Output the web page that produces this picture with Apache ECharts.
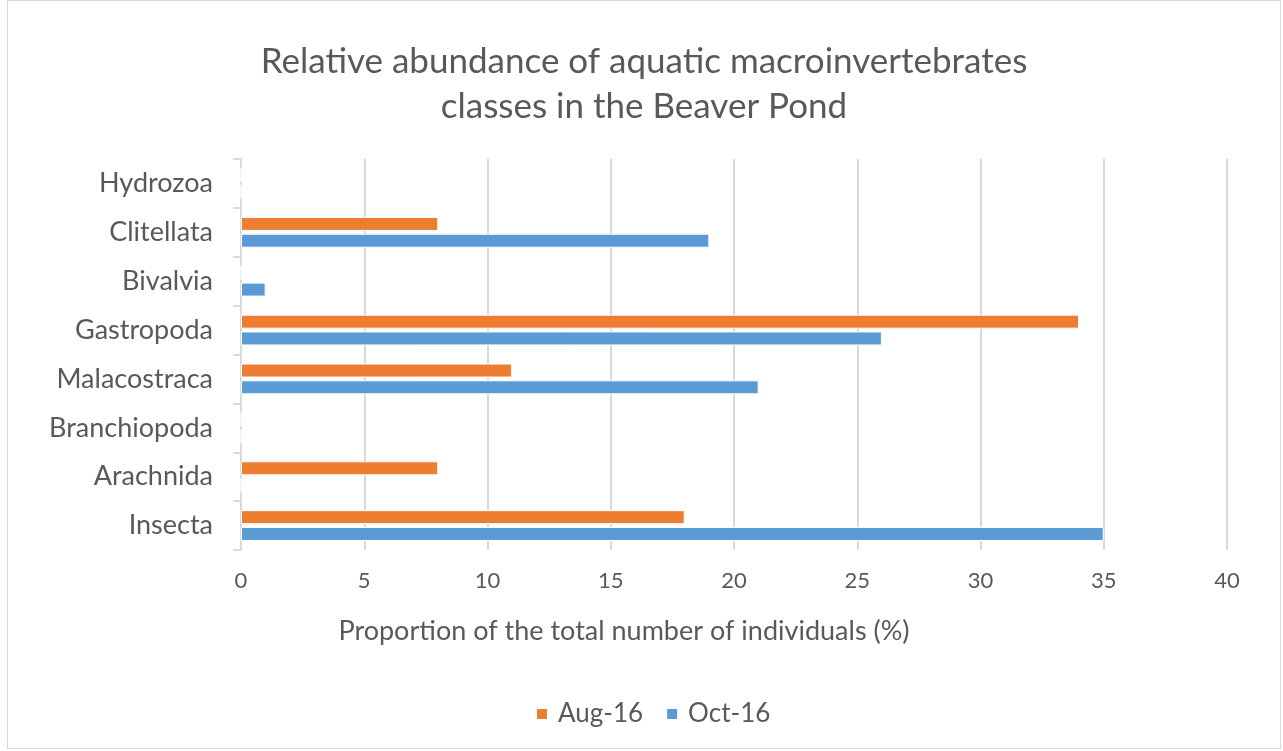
<!DOCTYPE html>
<html>
<head>
<meta charset="utf-8">
<script src="https://cdn.jsdelivr.net/npm/echarts@6/dist/echarts.min.js"></script>
<style>
  html, body { margin: 0; padding: 0; background: #fff; }
  #chart { position: absolute; left: 7px; top: 0; width: 1274px; height: 749px; border: 1px solid #d9d9d9; box-sizing: border-box; }
</style>
</head>
<body>
<div id="chart"></div>
<script>
// categories bottom -> top
const classes = ['Insecta', 'Arachnida', 'Branchiopoda', 'Malacostraca', 'Gastropoda', 'Bivalvia', 'Clitellata', 'Hydrozoa']
const aug16 = [18, 8, 0, 11, 34, 0, 8, 0]
const oct16 = [35, 0, 0, 21, 26, 1, 19, 0]
const xTicks = [0, 40, 5]  // min, max, interval

const font = 'Lato, "Open Sans", sans-serif'
const grey = '#595959'

let myChart = echarts.init(document.getElementById('chart'))
let option = {
  animation: false,
  title: {
    text: 'Relative abundance of aquatic macroinvertebrates\nclasses in the Beaver Pond',
    left: 'center',
    top: 33,
    textStyle: { color: grey, fontSize: 35, fontWeight: 'normal', fontFamily: font, lineHeight: 45 }
  },
  legend: {
    top: 700,
    left: 527,
    padding: 0,
    itemWidth: 12,
    itemHeight: 12,
    itemGap: 22,
    icon: 'rect',
    textStyle: { color: grey, fontSize: 26, fontFamily: font, padding: [0, 0, 0, 5] },
    data: ['Aug-16', 'Oct-16']
  },
  grid: {
    left: 233,
    right: 53,
    top: 158,
    bottom: 198
  },
  xAxis: {
    type: 'value',
    min: xTicks[0],
    max: xTicks[1],
    interval: xTicks[2],
    name: 'Proportion of the total number of individuals (%)',
    nameLocation: 'middle',
    nameGap: 68,
    nameTextStyle: { color: grey, fontSize: 27, fontFamily: font, padding: [0, 220, 0, 0] },
    axisLine: { show: false },
    axisTick: { show: false },
    axisLabel: { color: grey, fontSize: 22, fontFamily: font, margin: 20 },
    splitLine: { lineStyle: { color: '#d9d9d9', width: 2 } }
  },
  yAxis: {
    type: 'category',
    data: classes,
    axisLine: { lineStyle: { color: '#d9d9d9', width: 2 } },
    axisTick: { show: true, length: 8, lineStyle: { color: '#d9d9d9', width: 2 } },
    axisLabel: { color: grey, fontSize: 27, fontFamily: font, margin: 28 }
  },
  series: [
    {
      name: 'Aug-16',
      type: 'bar',
      data: aug16,
      barWidth: 14,
      barGap: '20%',
      itemStyle: { color: '#ED7D31', borderColor: '#fff', borderWidth: 1 }
    },
    {
      name: 'Oct-16',
      type: 'bar',
      data: oct16,
      barWidth: 14,
      barGap: '20%',
      itemStyle: { color: '#5B9BD5', borderColor: '#fff', borderWidth: 1 }
    }
  ]
}
myChart.setOption(option)
</script>
</body>
</html>
